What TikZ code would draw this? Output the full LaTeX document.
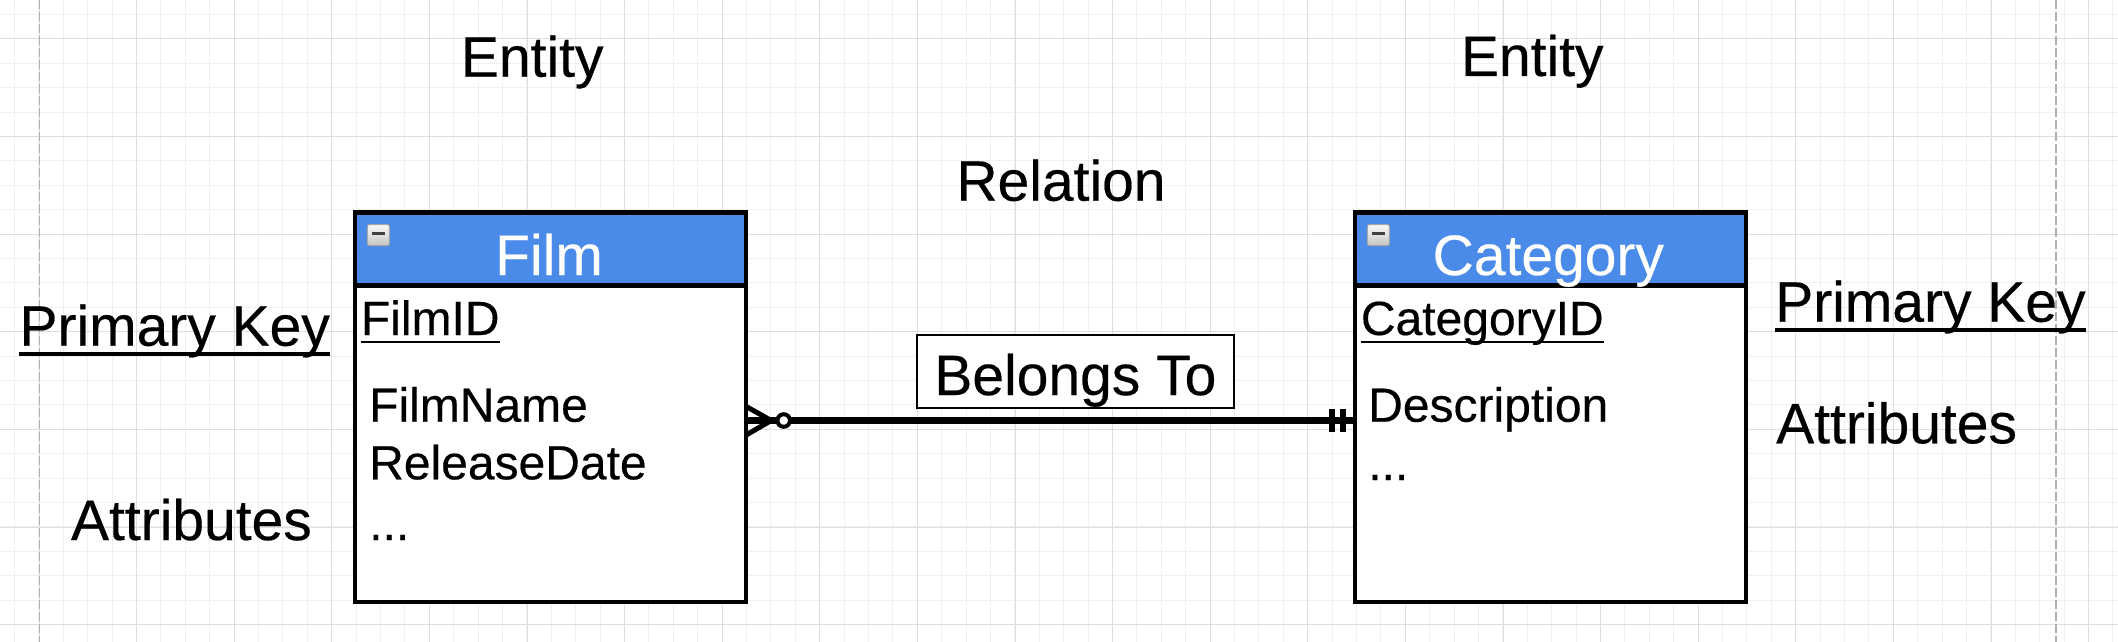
\documentclass[tikz,border=0pt]{standalone}
\usepackage{fontspec}
\setmainfont[FakeBold=0.35]{Liberation Sans}
\usetikzlibrary{calc,shadings}
\newcommand\fsA{\fontsize{57}{68}\selectfont}
\newcommand\fsB{\fontsize{48}{58}\selectfont}
\newcommand\ulin[1]{\setbox0\hbox{#1}\rlap{\rule[-0.172em]{\wd0}{0.053em}}\box0}
\definecolor{hdblue}{RGB}{74,138,233}
\definecolor{gridminor}{RGB}{240,240,240}
\definecolor{gridmajor}{RGB}{222,222,222}
\definecolor{pageline}{RGB}{175,175,175}
\begin{document}
\begin{tikzpicture}[x=1pt,y=-1pt,
  lbl/.style={inner sep=0pt, font=\fsA, text=black},
  attr/.style={inner sep=0pt, font=\fsB, anchor=base west, text=black},
  entbox/.style={rectangle, inner sep=0pt, minimum width=390.7pt, minimum height=389.2pt, fill=white},
  hdr/.style={rectangle, inner sep=0pt, minimum width=390.7pt, minimum height=72.5pt, fill=hdblue},
  boxline/.style={line width=4.3pt, draw=black},
  relbox/.style={rectangle, draw=black, line width=2pt, fill=white, inner sep=0pt, minimum width=317.3pt, minimum height=73.3pt, text height=50pt, text depth=3.3pt, font=\fsA},
  relline/.style={line width=6.5pt, draw=black},
  foot/.style={line width=5pt, draw=black},
  bar/.style={line width=6pt, draw=black},
  icon/.style={rectangle, draw=gray!70, line width=1pt, top color=gray!5, bottom color=gray!45, rounded corners=1.5pt, minimum width=22pt, minimum height=21pt, inner sep=0pt},
  minus/.style={line width=2.7pt, draw=black!75},
  gmin/.style={draw=gridminor, line width=1pt},
  gmaj/.style={draw=gridmajor, line width=1pt},
  pagedash/.style={draw=pageline, line width=1.5pt, dash pattern=on 9pt off 3pt}
]
\useasboundingbox (0,0) rectangle (2118,642);
\fill[white] (0,0) rectangle (2118,642);
% grid
\foreach \i in {0,...,86} \draw[gmin] ({14.5+24.4*\i},0) -- ({14.5+24.4*\i},642);
\foreach \i in {0,...,25} \draw[gmin] (0,{14.5+24.4*\i}) -- (2118,{14.5+24.4*\i});
\foreach \i in {0,...,21} \draw[gmaj] ({39+97.6*\i},0) -- ({39+97.6*\i},642);
\foreach \i in {0,...,6} \draw[gmaj] (0,{39+97.6*\i}) -- (2118,{39+97.6*\i});
\draw[pagedash] (39.3,0) -- (39.3,642);
\draw[pagedash] (2056,0) -- (2056,642);

% top labels
\node[lbl, anchor=base] (ent1) at (532.2,76.7) {Entity};
\node[lbl, anchor=base] (ent2) at (1532.2,76) {Entity};
\node[lbl, anchor=base] (relation) at (1061,200.7) {Relation};

% Film entity
\node[entbox] (film) at (550.65,407.4) {};
\node[hdr] (filmhdr) at (550.65,249.05) {};
\draw[boxline] (filmhdr.south west) -- (filmhdr.south east);
\draw[boxline] (film.north west) rectangle (film.south east);
\node[icon] (filmicon) at (378.3,235) {};
\draw[minus] ($(filmicon.center)+(-6.5,-1.5)$) -- ($(filmicon.center)+(6.5,-1.5)$);
\node[lbl, anchor=base, text=white] (filmtitle) at (549,275) {Film};
\node[attr] (filmid) at (360.7,335) {\ulin{FilmID}};
\node[attr] (filmname) at (369,421.7) {FilmName};
\node[attr] (reldate) at (369,479.3) {ReleaseDate};
\node[attr] (filmdots) at (369,540) {...};

% Category entity
\node[entbox] (cat) at (1550.65,407.4) {};
\node[hdr] (cathdr) at (1550.65,249.05) {};
\draw[boxline] (cathdr.south west) -- (cathdr.south east);
\draw[boxline] (cat.north west) rectangle (cat.south east);
\node[icon] (caticon) at (1378.3,235) {};
\draw[minus] ($(caticon.center)+(-6.5,-1.5)$) -- ($(caticon.center)+(6.5,-1.5)$);
\node[lbl, anchor=base, text=white] (cattitle) at (1548.3,275) {Category};
\node[attr] (catid) at (1360.7,335) {\ulin{CategoryID}};
\node[attr] (desc) at (1368,421.7) {Description};
\node[attr] (catdots) at (1368,480) {...};

% side labels
\node[lbl, anchor=base west] (pk1) at (19.3,345.7) {\ulin{Primary Key}};
\node[lbl, anchor=base] (at1) at (191.4,540) {Attributes};
\node[lbl, anchor=base west] (pk2) at (1775,321.7) {\ulin{Primary Key}};
\node[lbl, anchor=base west] (at2) at (1776,443.3) {Attributes};

% relation label
\node[relbox] (belongs) at (1075.35,371.65) {Belongs To};

% connector
\coordinate (relrow) at (0,420.5);
\coordinate (fport) at (film.east |- relrow);
\coordinate (cport) at (cat.west |- relrow);
\draw[relline] (fport) -- (cport);
\draw[foot] ($(fport)+(0,-14)$) -- ($(fport)+(25,0)$) -- ($(fport)+(0,14.5)$);
\draw[line width=4pt, draw=black, fill=white] ($(fport)+(37.5,0)$) circle[radius=6.3pt];
\draw[bar] ($(cport)+(-23,-11.7)$) -- ($(cport)+(-23,11.7)$);
\draw[bar] ($(cport)+(-12.3,-11.7)$) -- ($(cport)+(-12.3,11.7)$);
\end{tikzpicture}
\end{document}
